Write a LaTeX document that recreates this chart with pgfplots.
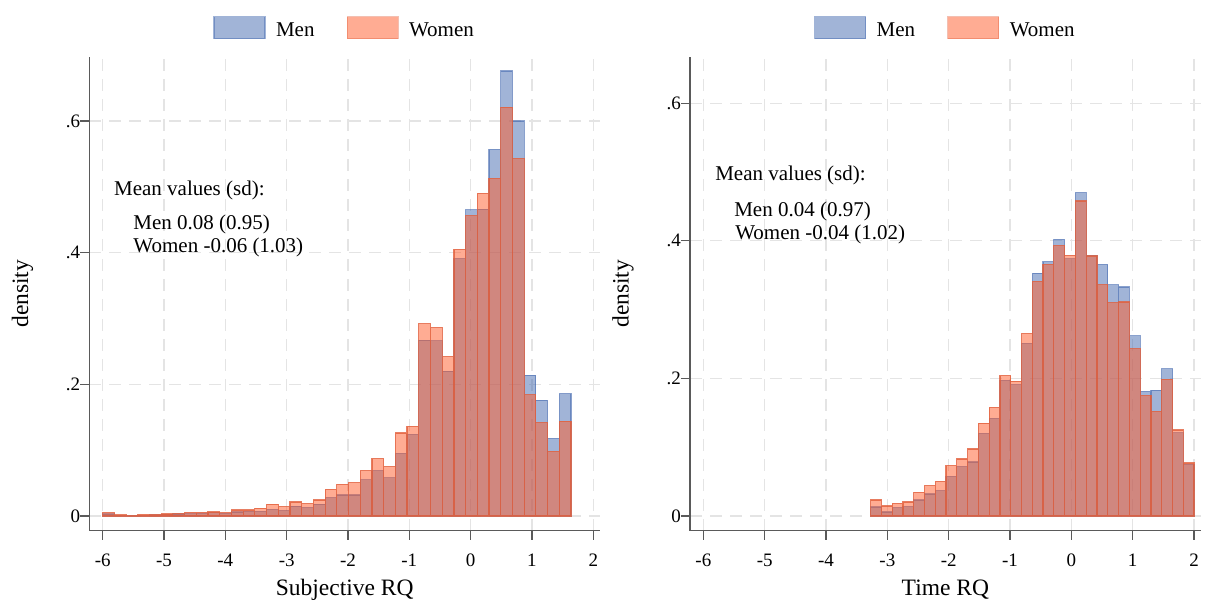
\documentclass[border=0pt]{standalone}
\usepackage{fontspec}
\setmainfont{Liberation Serif}
\usepackage{pgfplots}
\pgfplotsset{compat=1.18}
\definecolor{menc}{RGB}{68,105,175}
\definecolor{womc}{RGB}{255,90,40}
\definecolor{womline}{RGB}{225,95,60}
\definecolor{axgray}{RGB}{90,90,90}
\definecolor{gridc}{RGB}{228,228,228}

\tikzset{annot/.style={anchor=base west, inner sep=0pt, font=\fontsize{21}{24}\selectfont}}
\pgfplotsset{
  hist/.style={
    scale only axis, width=510.7pt, height=474pt,
    xmin=-6.218, xmax=2.109,
    axis x line*=bottom, axis y line*=left,
    axis line style={axgray, line width=1.4pt},
    every tick/.style={axgray, line width=1.2pt},
    tick align=outside, major tick length=9pt,
    xtick={-6,-5,-4,-3,-2,-1,0,1,2},
    xticklabels={-6,-5,-4,-3,-2,-1,0,1,2},
    ytick={0,0.2,0.4,0.6}, yticklabels={0,.2,.4,.6},
    tick label style={font=\fontsize{19}{22}\selectfont},
    xticklabel style={anchor=base, yshift=-27pt},
    yticklabel style={anchor=east, inner sep=0pt},
    grid=major,
    major grid style={gridc, line width=1.2pt, dash pattern=on 12pt off 8pt},
    label style={font=\fontsize{23.5}{26}\selectfont},
    ylabel={density},
    ylabel style={at={(axis description cs:-0.131,0.5)}, anchor=center},
    xlabel style={at={(axis description cs:0.5,-0.1357)}, anchor=base},
    legend style={at={(0.5,1.0605)}, anchor=center, draw=none, fill=none,
      font=\fontsize{21}{24}\selectfont,
      /tikz/every even column/.append style={column sep=30pt}},
    legend columns=2,
    clip=false,
  },
  menbar/.style={ybar interval, fill=menc, fill opacity=0.5, draw=menc, draw opacity=0.6, line width=1.2pt, forget plot},
  wombar/.style={ybar interval, fill=womc, fill opacity=0.5, draw=womline, draw opacity=0.8, line width=1.2pt, forget plot},
  menleg/.style={legend image code/.code={\draw[fill=menc, fill opacity=0.5, draw=menc, draw opacity=0.5, line width=1.2pt] (0pt,-8.5pt) rectangle (51pt,13.5pt); \path[draw=none, fill=none] (51pt,0pt) -- (60pt,0pt);}},
  womleg/.style={legend image code/.code={\draw[fill=womc, fill opacity=0.5, draw=womline, draw opacity=0.4, line width=1.2pt] (0pt,-8.5pt) rectangle (51pt,13.5pt); \path[draw=none, fill=none] (51pt,0pt) -- (60pt,0pt);}},
}

\begin{document}
\begin{tikzpicture}[x=1pt,y=1pt]
\useasboundingbox (0,0) rectangle (1206,601);

% ---------------- Left panel: Subjective RQ ----------------
\begin{axis}[hist, at={(89.3pt,70.3pt)}, anchor=south west,
  ymin=-0.0223, ymax=0.6977, xlabel={Subjective RQ}]
\addplot[menbar] coordinates {
(-6.000,0.003) (-5.809,0.0008) (-5.618,0.0005) (-5.427,0.001) (-5.236,0.0015)
(-5.046,0.0025) (-4.855,0.003) (-4.664,0.0035) (-4.473,0.004) (-4.282,0.005)
(-4.091,0.004) (-3.900,0.006) (-3.709,0.007) (-3.518,0.007) (-3.327,0.010)
(-3.137,0.008) (-2.946,0.015) (-2.755,0.0127) (-2.564,0.018) (-2.373,0.028)
(-2.182,0.032) (-1.991,0.032) (-1.800,0.055) (-1.609,0.069) (-1.418,0.058)
(-1.228,0.095) (-1.037,0.124) (-0.846,0.267) (-0.655,0.266) (-0.464,0.220)
(-0.273,0.391) (-0.082,0.465) (0.109,0.466) (0.300,0.557) (0.491,0.676)
(0.682,0.600) (0.872,0.214) (1.063,0.176) (1.254,0.118) (1.445,0.186)
(1.636,0.186)};
\addplot[wombar] coordinates {
(-6.000,0.005) (-5.809,0.0015) (-5.618,0.001) (-5.427,0.002) (-5.236,0.002)
(-5.046,0.003) (-4.855,0.004) (-4.664,0.0055) (-4.473,0.0055) (-4.282,0.006)
(-4.091,0.005) (-3.900,0.009) (-3.709,0.009) (-3.518,0.012) (-3.327,0.018)
(-3.137,0.0142) (-2.946,0.0213) (-2.755,0.019) (-2.564,0.0243) (-2.373,0.0405)
(-2.182,0.048) (-1.991,0.0506) (-1.800,0.069) (-1.609,0.087) (-1.418,0.075)
(-1.228,0.126) (-1.037,0.136) (-0.846,0.292) (-0.655,0.286) (-0.464,0.242)
(-0.273,0.405) (-0.082,0.456) (0.109,0.490) (0.300,0.513) (0.491,0.621)
(0.682,0.543) (0.872,0.184) (1.063,0.142) (1.254,0.098) (1.445,0.144)
(1.636,0.144)};
\addlegendimage{menleg}
\addlegendentry{Men}
\addlegendimage{womleg}
\addlegendentry{Women}
\node[annot] at (axis cs:-5.816,0.4866) {Mean values (sd):};
\node[annot] at (axis cs:-5.501,0.4345) {Men 0.08 (0.95)};
\node[annot] at (axis cs:-5.501,0.4006) {Women -0.06 (1.03)};
\end{axis}

% ---------------- Right panel: Time RQ ----------------
\begin{axis}[hist, at={(690pt,70.3pt)}, anchor=south west,
  ymin=-0.0214, ymax=0.6678, xlabel={Time RQ}]
\addplot[menbar] coordinates {
(-3.273,0.0131) (-3.097,0.0058) (-2.922,0.0121) (-2.746,0.0136) (-2.570,0.0233)
(-2.394,0.032) (-2.218,0.0368) (-2.043,0.0577) (-1.867,0.0717) (-1.691,0.0785)
(-1.515,0.120) (-1.340,0.142) (-1.164,0.197) (-0.988,0.191) (-0.812,0.251)
(-0.636,0.353) (-0.461,0.370) (-0.285,0.402) (-0.109,0.374) (0.067,0.470)
(0.242,0.379) (0.418,0.366) (0.594,0.336) (0.770,0.333) (0.946,0.262)
(1.121,0.181) (1.297,0.183) (1.473,0.214) (1.649,0.121) (1.824,0.075)
(2.000,0.075)};
\addplot[wombar] coordinates {
(-3.273,0.0233) (-3.097,0.0145) (-2.922,0.0184) (-2.746,0.0204) (-2.570,0.0344)
(-2.394,0.0441) (-2.218,0.0504) (-2.043,0.0732) (-1.867,0.0829) (-1.691,0.0974)
(-1.515,0.135) (-1.340,0.158) (-1.164,0.204) (-0.988,0.196) (-0.812,0.265)
(-0.636,0.341) (-0.461,0.366) (-0.285,0.393) (-0.109,0.379) (0.067,0.458)
(0.242,0.378) (0.418,0.336) (0.594,0.310) (0.770,0.311) (0.946,0.243)
(1.121,0.175) (1.297,0.152) (1.473,0.199) (1.649,0.125) (1.824,0.077)
(2.000,0.077)};
\addlegendimage{menleg}
\addlegendentry{Men}
\addlegendimage{womleg}
\addlegendentry{Women}
\node[annot] at (axis cs:-5.809,0.4871) {Mean values (sd):};
\node[annot] at (axis cs:-5.499,0.4352) {Men 0.04 (0.97)};
\node[annot] at (axis cs:-5.483,0.4013) {Women -0.04 (1.02)};
\end{axis}
\end{tikzpicture}
\end{document}
